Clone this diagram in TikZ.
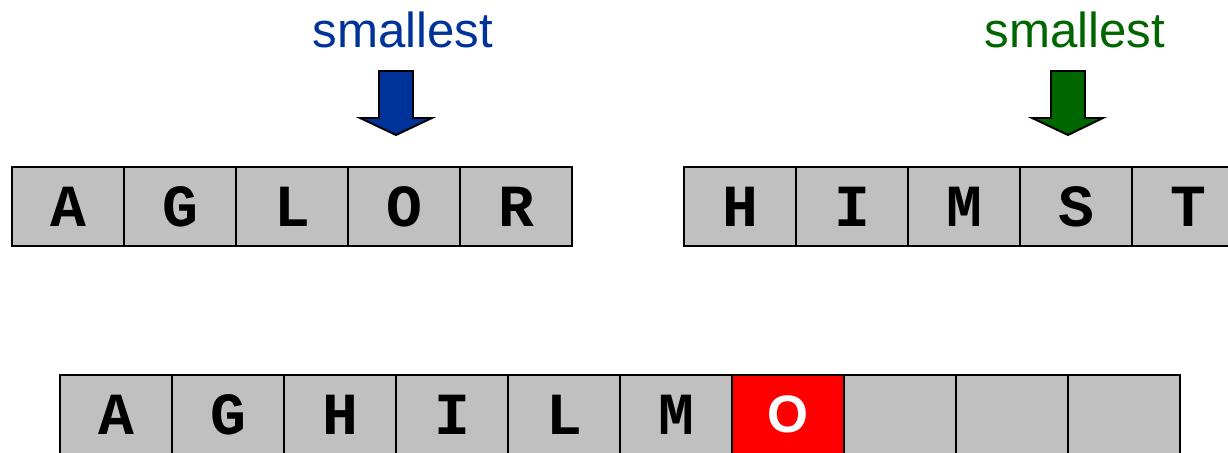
\documentclass[tikz,border=0pt]{standalone}
\usepackage{fontspec}
\setmainfont{Liberation Sans}
\setmonofont{Liberation Mono}
\usetikzlibrary{positioning}
\definecolor{cellgray}{HTML}{C0C0C0}
\definecolor{markblue}{HTML}{003399}
\definecolor{markgreen}{HTML}{006600}

\begin{document}
\begin{tikzpicture}[
  x=0.02cm,
  y=-0.02cm,
  cell/.style={draw,line width=1.1pt,fill=cellgray,minimum width=2.24cm,
    minimum height=1.58cm,inner sep=0pt,
    font=\ttfamily\bfseries\fontsize{34}{34}\selectfont},
  picked/.style={cell,fill=red,text=white,font=\bfseries\fontsize{30}{30}\selectfont},
  pointer/.style={draw=black,line width=1.1pt,line join=miter},
  caption/.style={font=\fontsize{28}{28}\selectfont,inner sep=0pt}
]
\useasboundingbox (0,0) rectangle (1228,453);
\clip (0,0) rectangle (1228,453);

% the two sorted halves
\foreach \ch [count=\i from 0] in {A,G,L,O,R}
  \node[cell] (a\i) at (68+112*\i,206.5) {\ch};
\foreach \ch [count=\i from 0] in {H,I,M,S,T}
  \node[cell] (b\i) at (740+112*\i,206.5) {\ch};

% merged result so far
\foreach \ch [count=\i from 0] in {A,G,H,I,L,M}
  \node[cell] (c\i) at (116+112*\i,414.5) {\ch};
\node[picked] (c6) at (116+112*6,414.5) {O};
\foreach \i in {7,8,9}
  \node[cell] (c\i) at (116+112*\i,414.5) {};

% pointers to the smallest remaining items
\node[caption,text=markblue] (smallA) at (403,30) {smallest};
\node[caption,text=markgreen] (smallB) at (1075,30) {smallest};
\filldraw[pointer,fill=markblue] (379,71) -- (413,71) -- (413,118) -- (432,118)
  -- (396,135) -- (360,118) -- (379,118) -- cycle;
\filldraw[pointer,fill=markgreen] (1051,71) -- (1085,71) -- (1085,118) -- (1103,118)
  -- (1068,135) -- (1032,118) -- (1051,118) -- cycle;

\end{tikzpicture}
\end{document}
